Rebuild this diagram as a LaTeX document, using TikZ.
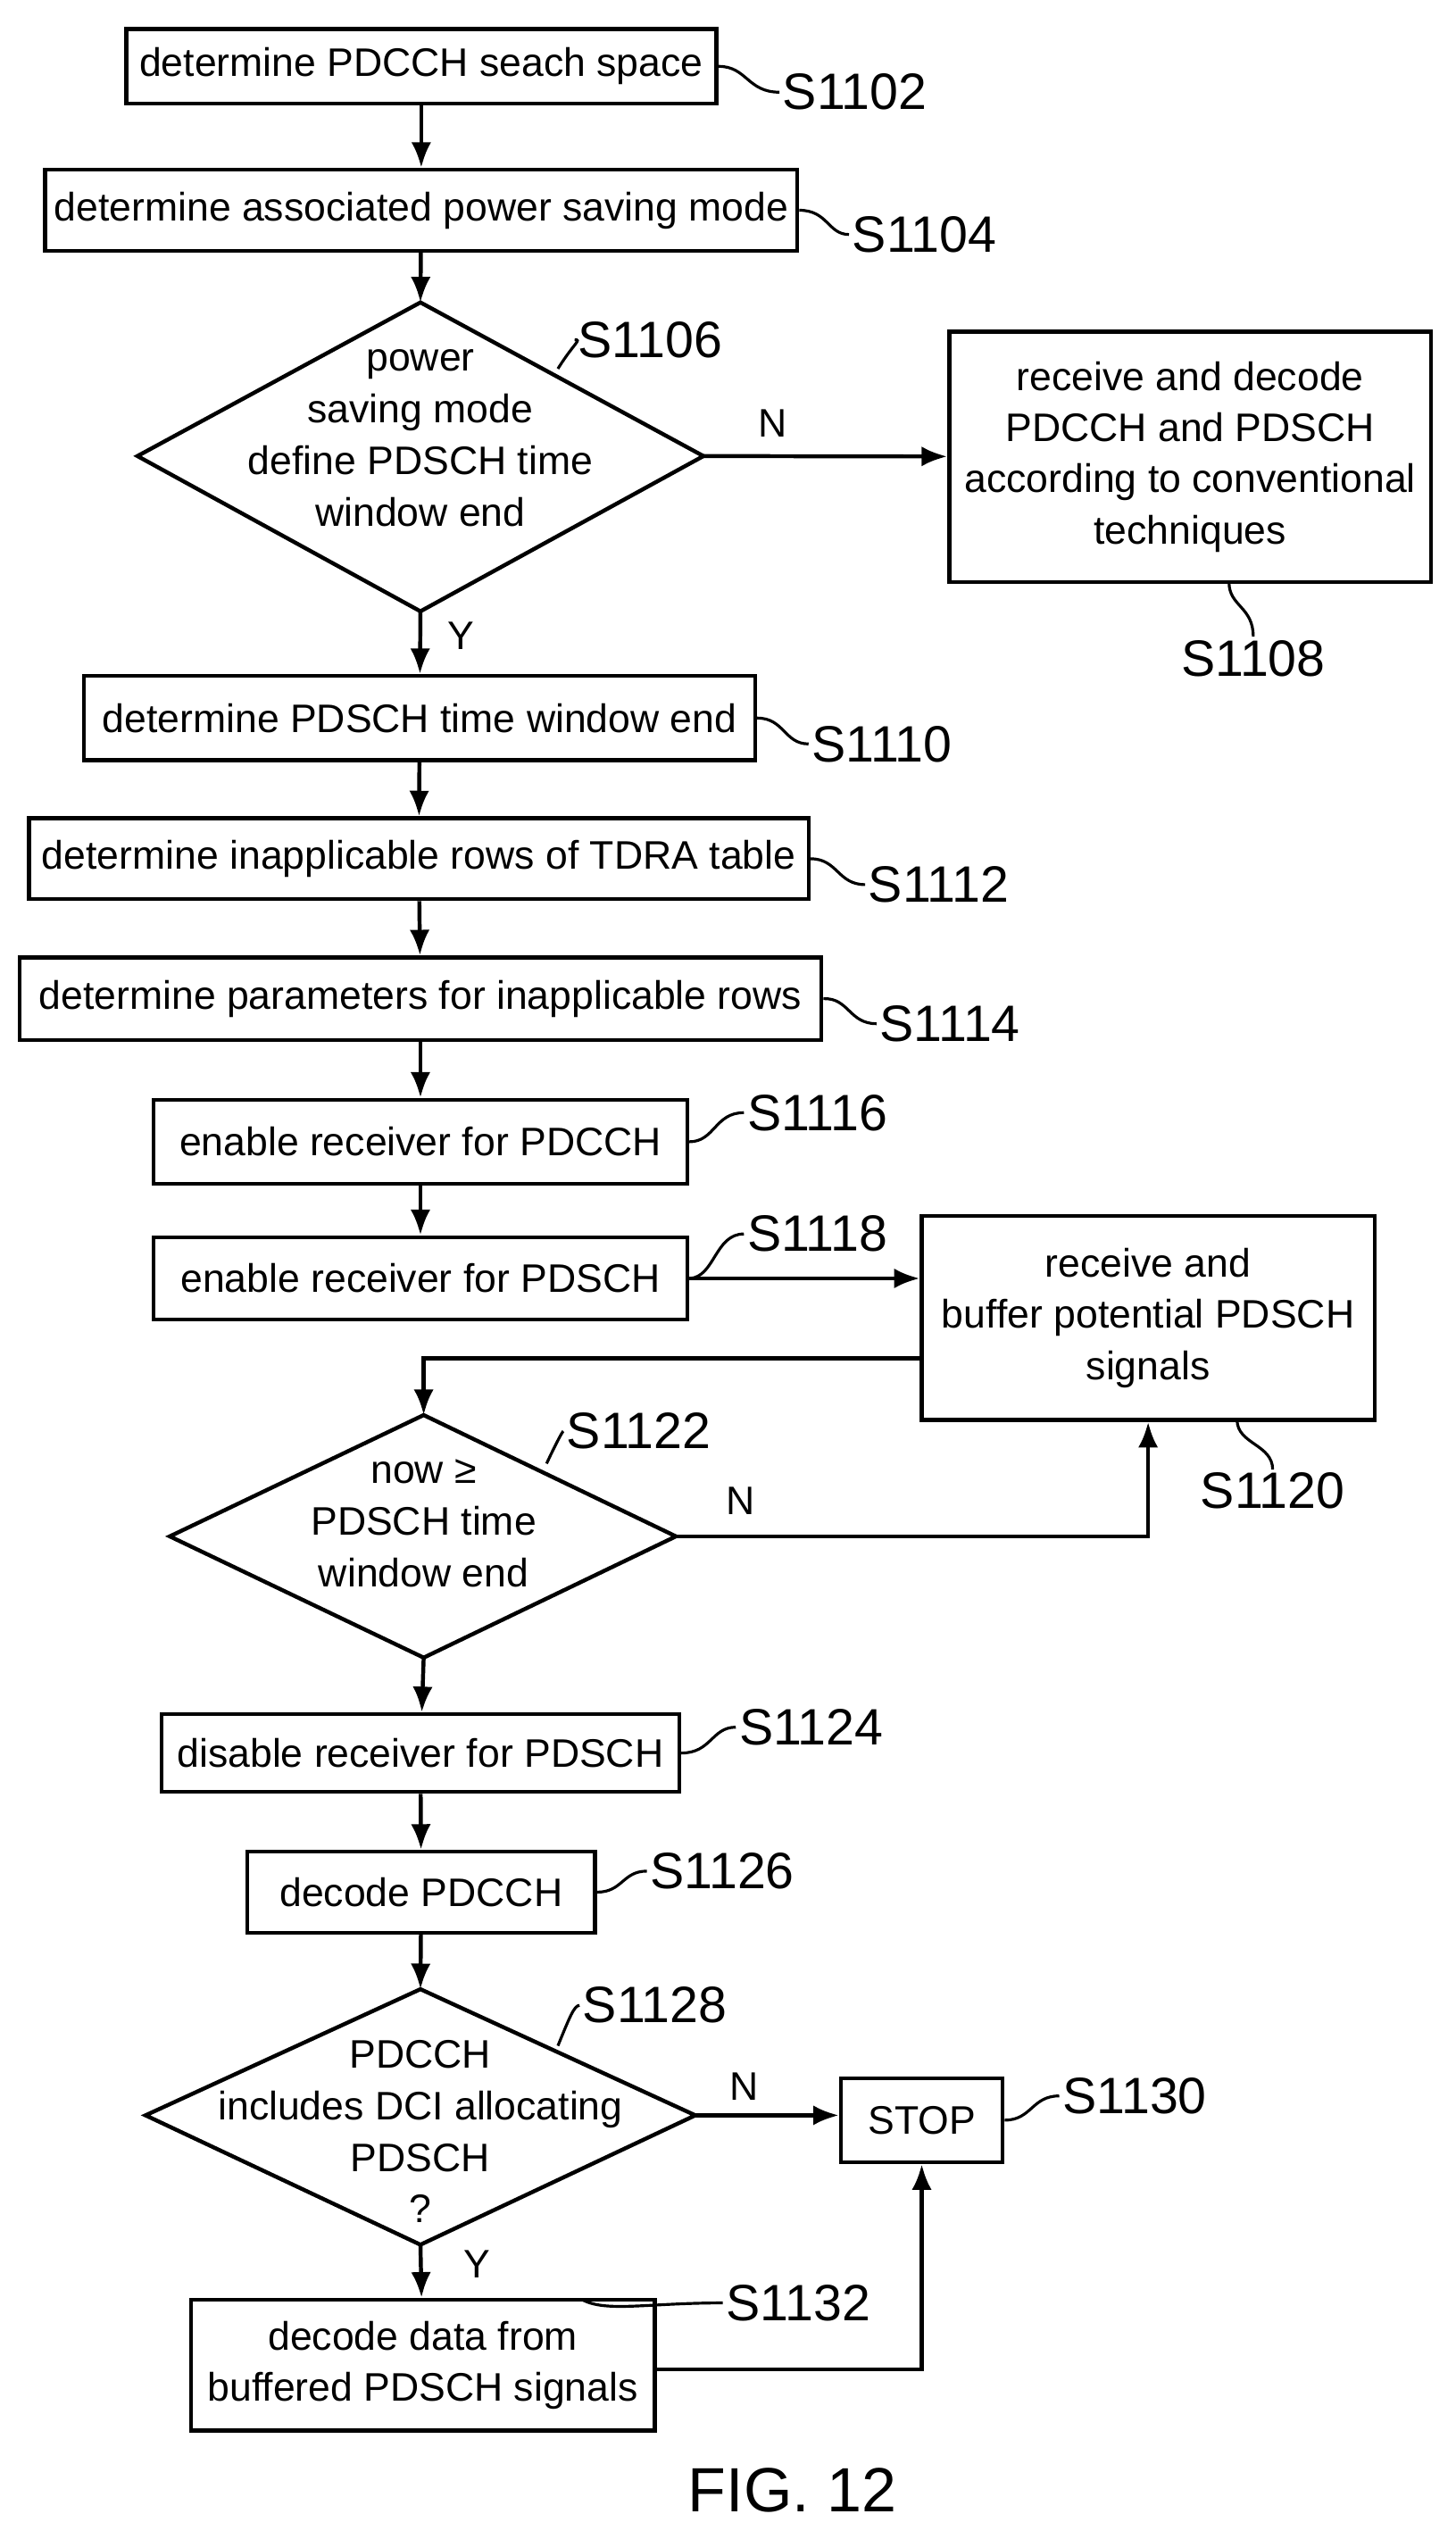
\documentclass[tikz,border=0pt]{standalone}
\usepackage{fontspec}
\setmainfont{Liberation Sans}
\usetikzlibrary{arrows.meta}
\begin{document}
\begin{tikzpicture}[x=0.02cm,y=-0.02cm,
  box/.style={draw,line width=1.4pt,align=center,inner sep=0pt,font=\fontsize{14}{18}\selectfont},
  lbl/.style={font=\fontsize{18}{20}\selectfont,inner sep=1pt},
  yn/.style={font=\fontsize{14}{16}\selectfont},
  txt/.style={align=center,font=\fontsize{14}{18.2}\selectfont},
  arr/.style={line width=1.4pt,-{Latex[length=9pt,width=7pt]}},
  ln/.style={line width=1.4pt},
  lead/.style={line width=1pt}]
\useasboundingbox (0,0) rectangle (900,1570);
\def\bx#1#2#3#4#5#6{\node[box,minimum width=#4*0.02cm,minimum height=#5*0.02cm] (#1) at (#2,#3) {#6};}
\bx{a}{260.5}{41}{365}{46}{determine PDCCH seach space}
\bx{b}{260.5}{130}{465}{50}{determine associated power saving mode}
\bx{c}{736}{282.5}{298}{155}{receive and decode\\PDCCH and PDSCH\\according to conventional\\techniques}
\bx{e}{259.5}{444}{415}{52}{determine PDSCH time window end}
\bx{f}{259}{531}{482}{50}{determine inapplicable rows of TDRA table}
\bx{g}{260}{617.5}{496}{51}{determine parameters for inapplicable rows}
\bx{h}{260}{706}{330}{52}{enable receiver for PDCCH}
\bx{i}{260}{790.5}{330}{51}{enable receiver for PDSCH}
\bx{j}{710}{815}{280}{126}{receive and\\buffer potential PDSCH\\signals}
\bx{k}{260}{1084}{320}{48}{disable receiver for PDSCH}
\bx{l}{260.5}{1170}{215}{50}{decode PDCCH}
\bx{stop}{570}{1311}{100}{52}{STOP}
\bx{m}{261.5}{1462.5}{287}{81}{decode data from\\buffered PDSCH signals}
% diamonds
\coordinate (d1t) at (260,187); \coordinate (d1b) at (260,378);
\coordinate (d1l) at (85,282); \coordinate (d1r) at (435,282);
\draw[ln] (d1t)--(d1r)--(d1b)--(d1l)--cycle;
\node[txt] (d1) at (260,271) {power\\saving mode\\define PDSCH time\\window end};
\coordinate (d2t) at (262,875); \coordinate (d2b) at (262,1025);
\coordinate (d2l) at (105,950); \coordinate (d2r) at (418,950);
\draw[ln] (d2t)--(d2r)--(d2b)--(d2l)--cycle;
\node[txt] (d2) at (262,942) {now ≥\\PDSCH time\\window end};
\coordinate (d3t) at (260,1230); \coordinate (d3b) at (260,1388);
\coordinate (d3l) at (90,1308); \coordinate (d3r) at (430,1308);
\draw[ln] (d3t)--(d3r)--(d3b)--(d3l)--cycle;
\node[txt] (d3) at (260,1318) {PDCCH\\includes DCI allocating\\PDSCH\\?};
% arrows
\draw[arr] (a) -- (b);
\draw[arr] (b) -- (d1t);
\draw[arr] (d1r) -- (c);
\draw[arr] (d1b) -- (e);
\draw[arr] (e) -- (f);
\draw[arr] (f) -- (g);
\draw[arr] (g) -- (h);
\draw[arr] (h) -- (i);
\draw[arr] (i) -- (i -| j.west);
\coordinate (jw) at (570,840);
\draw[arr] (jw) -| (d2t);
\coordinate (nr) at (710,950);
\draw[arr] (d2r) -- (nr) -- (j.south -| nr);
\draw[arr] (d2b) -- (k);
\draw[arr] (k) -- (l);
\draw[arr] (l) -- (d3t);
\draw[arr] (d3r) -- (d3r -| stop.west);
\draw[arr] (d3b) -- (m);
\coordinate (mr) at (570,1465);
\draw[arr] (m.east |- mr) -- (mr) -- (stop);
% Y/N
\node[yn] (n1) at (478,262) {N};
\node[yn] (y1) at (285,393) {Y};
\node[yn] (n2) at (458,928) {N};
\node[yn] (n3) at (460,1290) {N};
\node[yn] (y3) at (295,1400) {Y};
% step labels
\node[lbl,anchor=west] (la) at (482,57) {S1102};
\draw[lead] (a.east) .. controls (462,41) and (462,57) .. (la.west);
\node[lbl,anchor=west] (lb) at (525,145) {S1104};
\draw[lead] (b.east) .. controls (512,130) and (512,145) .. (lb.west);
\node[lbl] (ld1) at (402,210) {S1106};
\draw[lead] (345,228) .. controls (355,212) and (360,210) .. (ld1.west);
\node[lbl] (lc) at (775,407) {S1108};
\draw[lead] (760,360) .. controls (760,375) and (775,375) .. (lc.north);
\node[lbl,anchor=west] (le) at (500,460) {S1110};
\draw[lead] (e.east) .. controls (485,444) and (485,460) .. (le.west);
\node[lbl,anchor=west] (lf) at (535,547) {S1112};
\draw[lead] (f.east) .. controls (518,531) and (518,547) .. (lf.west);
\node[lbl,anchor=west] (lg) at (542,633) {S1114};
\draw[lead] (g.east) .. controls (525,617) and (525,633) .. (lg.west);
\node[lbl,anchor=west] (lh) at (460,688) {S1116};
\draw[lead] (h.east) .. controls (442,706) and (442,688) .. (lh.west);
\node[lbl,anchor=west] (li) at (460,763) {S1118};
\draw[lead] (i.east) .. controls (442,790) and (442,763) .. (li.west);
\node[lbl] (lj) at (787,922) {S1120};
\draw[lead] (765,878) .. controls (765,893) and (787,893) .. (lj.north);
\node[lbl] (ld2) at (395,885) {S1122};
\draw[lead] (338,905) .. controls (345,890) and (348,885) .. (ld2.west);
\node[lbl,anchor=west] (lk) at (455,1068) {S1124};
\draw[lead] (k.east) .. controls (440,1084) and (440,1068) .. (lk.west);
\node[lbl,anchor=west] (ll) at (400,1157) {S1126};
\draw[lead] (l.east) .. controls (385,1170) and (385,1157) .. (ll.west);
\node[lbl] (ld3) at (405,1240) {S1128};
\draw[lead] (345,1265) .. controls (352,1248) and (355,1240) .. (ld3.west);
\node[lbl,anchor=west] (ls) at (655,1296) {S1130};
\draw[lead] (stop.east) .. controls (638,1311) and (638,1296) .. (ls.west);
\node[lbl,anchor=west] (lm) at (447,1424) {S1132};
\draw[lead] (360,1422) .. controls (375,1430) and (400,1424) .. (lm.west);
\node[font=\fontsize{22}{24}\selectfont] (fig) at (490,1540) {FIG. 12};
\end{tikzpicture}
\end{document}
